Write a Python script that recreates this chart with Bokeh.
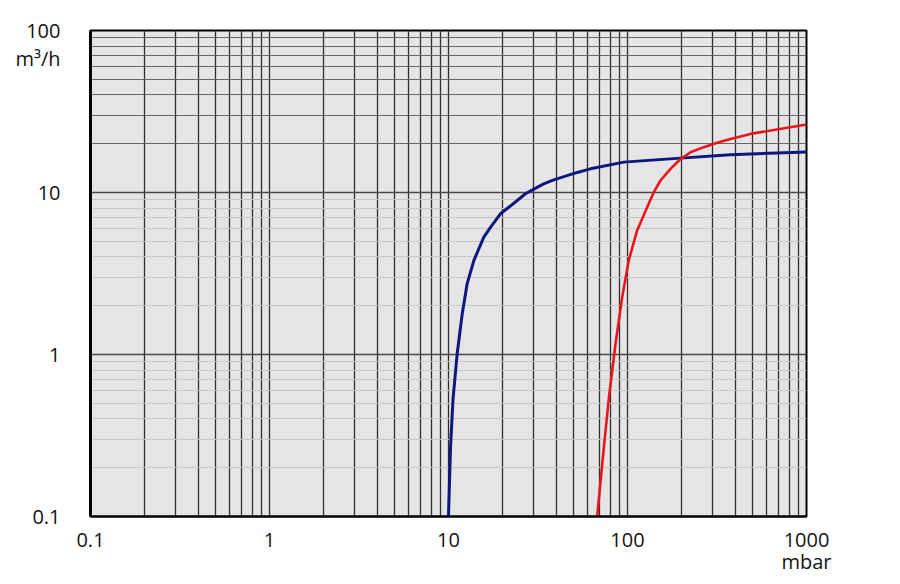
from bokeh.plotting import figure
from bokeh.models import FixedTicker, Grid, LogAxis, CustomJSTickFormatter
from bokeh.embed import file_html
from bokeh.resources import INLINE

# ---- data ----
blue_x = [10.0, 10.26, 10.6, 11.18, 11.93, 12.71, 13.85, 15.75, 17.2, 19.5, 21.7, 24.2, 26.9, 30.0, 34.0, 38.7, 52.4, 62.1, 95.3, 197.7, 376, 1000]
blue_y = [0.1, 0.264, 0.533, 1.01, 1.78, 2.73, 3.80, 5.30, 6.11, 7.39, 8.11, 8.93, 9.82, 10.5, 11.3, 11.97, 13.3, 14.0, 15.4, 16.3, 17.1, 17.8]

red_x = [67.7, 73.8, 78.6, 85.7, 93.4, 101.6, 113.2, 128.8, 140.3, 152.8, 173.9, 197.7, 224.8, 266.8, 317, 376, 486, 1000]
red_y = [0.1, 0.268, 0.533, 1.16, 2.26, 3.80, 5.83, 8.11, 10.05, 11.86, 14.0, 16.1, 17.7, 19.05, 20.3, 21.4, 23.0, 26.3]

x_ticks = [0.1, 1, 10, 100, 1000]
y_ticks = [0.1, 1, 10, 100]
x_unit = "mbar"
y_unit = "m³/h"
y_unit_at = 67      # vertical position (data units) of the y unit label, under "100"
x_unit_at = 1000    # horizontal position of the x unit label, under "1000"

FONT = "Open Sans"
FSIZE = "20px"
TCOL = "#141414"

p = figure(
    x_axis_type="log", y_axis_type="log",
    x_range=(0.1, 1000), y_range=(0.1, 100),
    frame_width=716, frame_height=486,
    min_border_left=90, min_border_top=30, min_border_right=60, min_border_bottom=60,
    output_backend="svg", toolbar_location=None,
    background_fill_color="#e5e5e5", border_fill_color="white",
)
p.outline_line_color = "black"
p.outline_line_width = 2

# vertical grid: every 1..9 x decade
vert = [k * 10.0 ** n for n in range(-1, 3) for k in range(1, 10)] + [1000]
p.xgrid[0].ticker = FixedTicker(ticks=vert)
p.xgrid[0].grid_line_color = "#2e2e2e"
p.xgrid[0].grid_line_width = 1.3

# horizontal grids
light_minor = [k * 10.0 ** n for n in range(-1, 1) for k in range(2, 10)]
dark_minor = [k * 10.0 for k in range(2, 10)]
p.ygrid[0].ticker = FixedTicker(ticks=light_minor)
p.ygrid[0].grid_line_color = "#c6c6c6"
p.ygrid[0].grid_line_width = 1.2
p.add_layout(Grid(dimension=1, ticker=FixedTicker(ticks=dark_minor), grid_line_color="#666666", grid_line_width=1.2))
p.add_layout(Grid(dimension=1, ticker=FixedTicker(ticks=[1, 10]), grid_line_color="#4a4a4a", grid_line_width=1.5))

fmt = CustomJSTickFormatter(code="return String(tick);")


def style(ax):
    ax.major_tick_in = 0
    ax.major_tick_out = 0
    ax.minor_tick_in = 0
    ax.minor_tick_out = 0
    ax.major_label_text_font = FONT
    ax.major_label_text_font_size = FSIZE
    ax.major_label_text_color = TCOL


xa = p.xaxis[0]
xa.ticker = FixedTicker(ticks=x_ticks)
xa.formatter = fmt
style(xa)
xa.axis_line_color = "black"
xa.axis_line_width = 2
xa.major_label_standoff = 16

ya = p.yaxis[0]
ya.ticker = FixedTicker(ticks=y_ticks + [y_unit_at])
ya.formatter = fmt
ya.major_label_overrides = {y_unit_at: y_unit}
style(ya)
ya.axis_line_color = "black"
ya.axis_line_width = 3
ya.major_label_standoff = 30

# second bottom axis only carrying the unit text under "1000"
xa2 = LogAxis(ticker=FixedTicker(ticks=[x_unit_at]), formatter=fmt,
              major_label_overrides={x_unit_at: x_unit}, axis_line_color=None)
style(xa2)
xa2.major_label_standoff = -2
p.add_layout(xa2, "below")

p.line(blue_x, blue_y, line_color="#0c1880", line_width=3)
p.line(red_x, red_y, line_color="#e8161c", line_width=2.6)

open("out.html", "w").write(file_html(p, INLINE))
